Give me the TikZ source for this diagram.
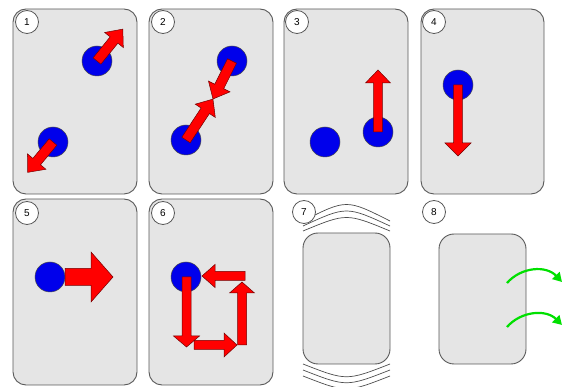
\documentclass[tikz,border=0pt]{standalone}
\usepackage{fontspec}
\setmainfont{Liberation Sans}
\usetikzlibrary{arrows.meta}
\tikzset{
  card/.style={draw=black!65, fill=black!10, line width=0.9pt, rounded corners=13pt},
  numlab/.style={circle, draw=black!65, fill=white, line width=0.8pt, minimum size=23pt, inner sep=0pt, font=\fontsize{10}{10}\selectfont},
  ball/.style={circle, draw=black!70, fill=blue!92!black, line width=0.5pt, minimum size=30pt, inner sep=0pt},
  redarrow/.style={draw=black!55!red, fill=red, line width=0.5pt, line join=miter},
  pics/barrow/.style n args={4}{code={
    \path[redarrow] (0,-#2) -- (#1-#4,-#2) -- (#1-#4,-#3) -- (#1,0) -- (#1-#4,#3) -- (#1-#4,#2) -- (0,#2) -- cycle;}},
  greenarrow/.style={draw=green!88!black, line width=2.2pt, -{Triangle[length=9pt,width=10pt]}},
  wave/.style={draw=black!70, line width=0.7pt}
}
\begin{document}
\begin{tikzpicture}[x=1pt,y=-1pt]
\useasboundingbox (0,0) rectangle (563,387);
% cards
\draw[card] (13,9) rectangle (137,194);
\draw[card] (149,9) rectangle (273,194);
\draw[card] (284,9) rectangle (408,194);
\draw[card] (421,9) rectangle (544,194);
\draw[card] (13,199) rectangle (137,385);
\draw[card] (149,199) rectangle (273,385);
\draw[card, rounded corners=15pt] (303,233) rectangle (390,364);
\draw[card, rounded corners=15pt] (439,234) rectangle (526,364);

% panel 1
\node[ball] (b1a) at (97,61) {};
\node[ball] (b1b) at (53,142) {};
\pic[rotate=51] at (b1a) {barrow={41}{5}{12}{14}};
\pic[rotate=230.2] at (b1b) {barrow={39.5}{5}{12}{14}};

% panel 2
\node[ball] (b2a) at (232,61) {};
\node[ball] (b2b) at (186,140) {};
\pic[rotate=243.4] at (b2a) {barrow={42.5}{5}{12}{14}};
\pic[rotate=56.6] at (b2b) {barrow={49}{5}{12}{14}};

% panel 3
\node[ball] (b3a) at (325,142) {};
\node[ball] (b3b) at (378,132) {};
\pic[rotate=90] at (b3b) {barrow={62}{4.3}{12.5}{13}};

% panel 4
\node[ball] (b4) at (458,85) {};
\pic[rotate=270] at (b4) {barrow={71}{4.3}{13}{13}};

% panel 5
\node[ball] (b5) at (50,277) {};
\pic at (65,277) {barrow={48}{8.5}{25}{22}};

% panel 6
\node[ball] (b6) at (186,277) {};
\pic[rotate=270] at (186.5,277) {barrow={70}{4.5}{13}{11}};
\pic at (194,345) {barrow={43}{4.5}{12}{13}};
\pic[rotate=90] at (242,345) {barrow={63}{4.5}{12.5}{11}};
\pic[rotate=180] at (245,276) {barrow={43}{4.5}{11.5}{13}};

% panel 7 waves
\draw[wave] (303,221) .. controls (346.5,199) .. (390,221);
\draw[wave] (303,226) .. controls (346.5,206) .. (390,226);
\draw[wave] (303,231) .. controls (346.5,213) .. (390,231);
\draw[wave] (303,364) .. controls (346.5,381) .. (390,364);
\draw[wave] (303,370) .. controls (346.5,387) .. (390,370);
\draw[wave] (303,376) .. controls (346.5,393) .. (390,376);

% panel 8 green arrows
\coordinate (g1s) at (507,283);
\coordinate (g1e) at (562,282);
\coordinate (g2s) at (507,327);
\coordinate (g2e) at (562,325);
\draw[greenarrow] (g1s) .. controls (521,267) and (546,265) .. (g1e);
\draw[greenarrow] (g2s) .. controls (521,311) and (546,309) .. (g2e);

% labels
\node[numlab] (l1) at (27,22) {1};
\node[numlab] (l2) at (163,22) {2};
\node[numlab] (l3) at (297,22) {3};
\node[numlab] (l4) at (434,22) {4};
\node[numlab] (l5) at (27,213) {5};
\node[numlab] (l6) at (163,213) {6};
\node[numlab] (l7) at (304,212) {7};
\node[numlab] (l8) at (434,212) {8};
\end{tikzpicture}
\end{document}
